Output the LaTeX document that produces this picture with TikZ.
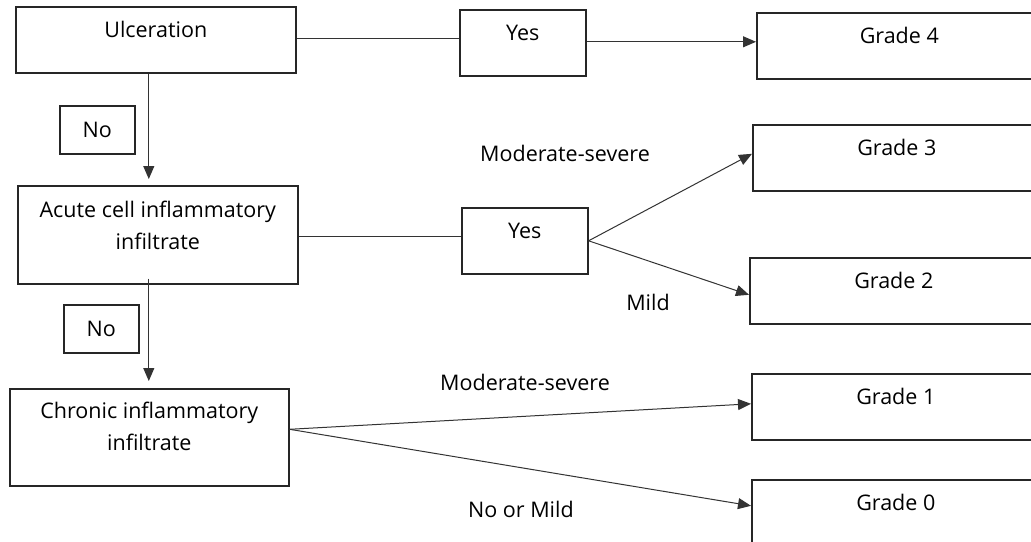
\documentclass[tikz,border=0pt]{standalone}
\usepackage{fontspec}
\setmainfont{Open Sans}
\usetikzlibrary{arrows.meta}

\begin{document}
\begin{tikzpicture}[x=1pt, y=-1pt,
every node/.style={font=\fontsize{21.5}{32}\selectfont},
onebox/.style={rectangle, draw=black!85, line width=1.6pt, anchor=north west, inner xsep=0pt, inner ysep=17pt, text height=14pt, text depth=18pt},
twobox/.style={rectangle, draw=black!85, line width=1.6pt, anchor=north west, align=center, inner xsep=0pt, inner ysep=18pt, text height=46pt, text depth=16pt, minimum width=280pt},
nobox/.style={rectangle, draw=black!85, line width=1.6pt, anchor=north west, inner sep=0pt, minimum width=75pt, minimum height=48pt},
link/.style={draw=black!80, line width=1pt},
arrow/.style={link, -{Triangle[length=13pt, width=11pt]}},
]
\clip (0,0) rectangle (1031,541);
\fill[white] (0,0) rectangle (1031,541);

%Nodes
\node[onebox, minimum width=280pt] (ulcer) at (15,6) {Ulceration};
\node[onebox, minimum width=126pt] (yesA) at (459,9) {Yes};
\node[onebox, minimum width=285pt] (grade4) at (756,12) {Grade 4};

\node[nobox] (noA) at (59,105) {No};

\node[twobox] (acute) at (17,185) {Acute cell inflammatory\\infiltrate};
\node[onebox, minimum width=126pt] (yesB) at (461,207) {Yes};
\node[onebox, minimum width=288pt] (grade3) at (752,124) {Grade 3};
\node[onebox, minimum width=288pt] (grade2) at (749,257) {Grade 2};

\node[nobox] (noB) at (63,304) {No};

\node[twobox, minimum width=279pt, text height=44pt, text depth=17pt] (chronic) at (9,388) {Chronic inflammatory\\infiltrate};
\node[onebox, minimum width=288pt] (grade1) at (751,373) {Grade 1};
\node[onebox, minimum width=288pt] (grade0) at (751,479) {Grade 0};

%Labels
\node (modA) at (565,153) {Moderate-severe};
\node (mild) at (648,302) {Mild};
\node (modB) at (525,382) {Moderate-severe};
\node (nomild) at (521,509) {No or Mild};

%Lines
\draw[link] ([yshift=1pt]ulcer.east) -- ([yshift=1pt]ulcer.east -| yesA.west);
\draw[arrow] ([yshift=1pt]yesA.east) -- ([yshift=1pt]yesA.east -| grade4.west);
\draw[arrow, shorten >=6pt] ([xshift=-7pt]ulcer.south) -- ([xshift=-7pt]ulcer.south |- acute.north);
\draw[link] ([yshift=-2pt]acute.east) -- ([yshift=-2pt]acute.east -| yesB.west);
\draw[arrow] (yesB.east) -- ([yshift=4pt]grade3.west);
\draw[arrow] (yesB.east) -- ([yshift=-4pt]grade2.west);
\draw[arrow, shorten >=7pt] ([xshift=-9pt, yshift=6pt]acute.south) -- ([xshift=-9pt]acute.south |- chronic.north);
\draw[arrow] ([yshift=8pt]chronic.east) -- ([yshift=3pt]grade1.west);
\draw[arrow] ([yshift=8pt]chronic.east) -- ([yshift=7pt]grade0.west);
\end{tikzpicture}
\end{document}
